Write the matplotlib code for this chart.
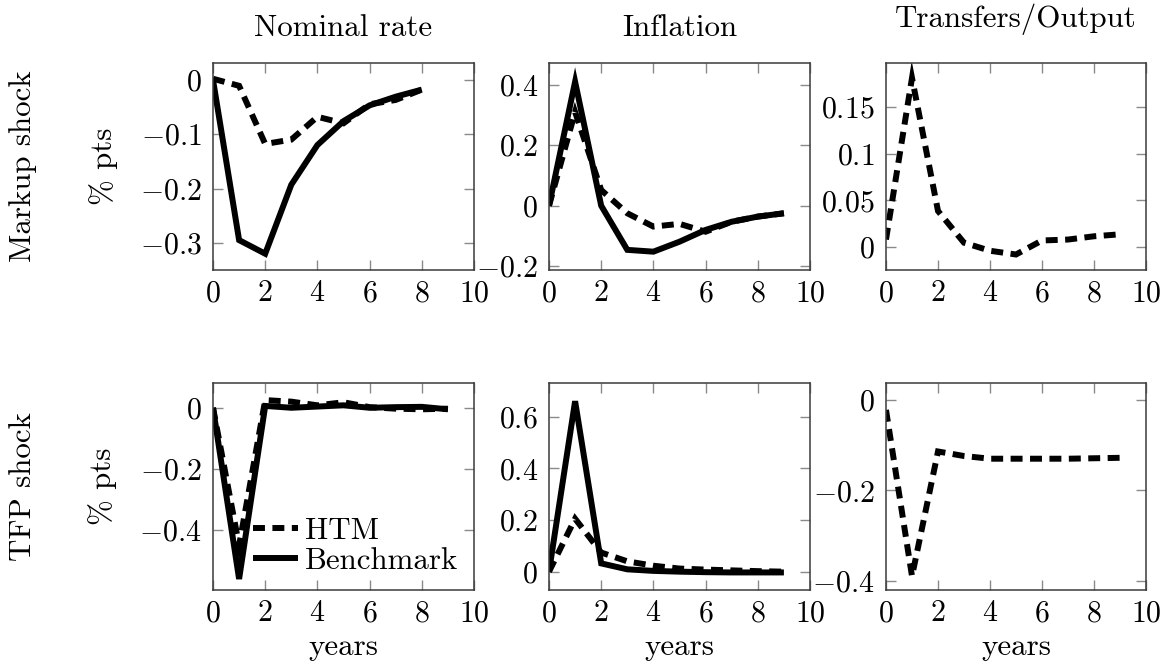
import matplotlib
matplotlib.use("Agg")
import matplotlib.pyplot as plt

plt.rcParams['font.family'] = ['cmr10', 'DejaVu Serif']
plt.rcParams['mathtext.fontset'] = 'cm'
plt.rcParams['axes.formatter.use_mathtext'] = True

# ---------------- data ----------------
years = [0, 1, 2, 3, 4, 5, 6, 7, 8, 9]

col_titles = ["Nominal rate", "Inflation", "Transfers/Output"]
row_titles = ["Markup shock", "TFP shock"]

markup_rate_bench = [0.0, -0.295, -0.32, -0.193, -0.12, -0.076, -0.047, -0.031, -0.018]
markup_rate_htm = [0.002, -0.011, -0.118, -0.11, -0.068, -0.08, -0.045, -0.037, -0.018]
markup_infl_bench = [0.0, 0.41, 0.0, -0.146, -0.152, -0.119, -0.08, -0.053, -0.036, -0.025]
markup_infl_htm = [0.0, 0.31, 0.052, -0.025, -0.069, -0.06, -0.086, -0.053, -0.036, -0.025]
markup_transfer_htm = [0.008, 0.181, 0.0386, 0.0046, -0.004, -0.008, 0.007, 0.008, 0.0115, 0.0136]

tfp_rate_bench = [0.0, -0.56, 0.006, 0.0, 0.004, 0.008, 0.0, 0.002, 0.003, -0.005]
tfp_rate_htm = [0.0, -0.45, 0.025, 0.02, 0.008, 0.018, 0.002, -0.003, -0.005, -0.003]
tfp_infl_bench = [0.0, 0.66, 0.032, 0.009, 0.003, 0.0, -0.002, -0.003, -0.003, -0.003]
tfp_infl_htm = [0.0, 0.205, 0.074, 0.04, 0.023, 0.012, 0.008, 0.005, 0.002, 0.0]
tfp_transfer_htm = [-0.022, -0.39, -0.114, -0.124, -0.13, -0.13, -0.13, -0.13, -0.129, -0.128]

xticks = [0, 2, 4, 6, 8, 10]
yticks = [
    [[0, -0.1, -0.2, -0.3], [0.4, 0.2, 0, -0.2], [0.15, 0.1, 0.05, 0]],
    [[0, -0.2, -0.4], [0.6, 0.4, 0.2, 0], [0, -0.2, -0.4]],
]
ylims = [
    [(-0.35, 0.031), (-0.2126, 0.472), (-0.0246, 0.197)],
    [(-0.596, 0.081), (-0.071, 0.7305), (-0.4206, 0.0376)],
]

panels = [
    [[(markup_rate_htm, 'htm'), (markup_rate_bench, 'bench')],
     [(markup_infl_htm, 'htm'), (markup_infl_bench, 'bench')],
     [(markup_transfer_htm, 'htm')]],
    [[(tfp_rate_htm, 'htm'), (tfp_rate_bench, 'bench')],
     [(tfp_infl_htm, 'htm'), (tfp_infl_bench, 'bench')],
     [(tfp_transfer_htm, 'htm')]],
]
labels = {'htm': 'HTM', 'bench': 'Benchmark'}

# ---------------- layout ----------------
W, H = 1167, 665
fig = plt.figure(figsize=(W / 100, H / 100), dpi=100)

col_left = [213, 549, 886]
col_width = [261, 261, 260]
row_top = [63, 383]
row_h = 207

FS_TICK = 21.5
FS = 22.3
LW = 4.3
frame_col = '#3a3a3a'
tick_col = '#8a8a8a'


def fmt(v):
    s = ('%.2f' % v).rstrip('0').rstrip('.')
    if s in ('-0', '0.'):
        s = '0'
    return '$' + s + '$'


for r in range(2):
    for c in range(3):
        l = col_left[c] / W
        b = 1 - (row_top[r] + row_h) / H
        ax = fig.add_axes([l, b, col_width[c] / W, row_h / H])
        for y, kind in panels[r][c]:
            xs = years[:len(y)]
            if kind == 'htm':
                ax.plot(xs, y, color='black', lw=LW, linestyle=(0, (2.0, 1.25)),
                        dash_joinstyle='miter', dash_capstyle='butt',
                        label=labels[kind])
            else:
                ax.plot(xs, y, color='black', lw=LW, linestyle='-',
                        solid_joinstyle='miter', solid_capstyle='butt',
                        label=labels[kind])
        ax.set_xlim(0, 10)
        ax.set_ylim(*ylims[r][c])
        ax.set_xticks(xticks)
        ax.set_xticklabels([fmt(v) for v in xticks])
        ax.set_yticks(yticks[r][c])
        ax.set_yticklabels([fmt(v) for v in yticks[r][c]])
        ax.tick_params(axis='both', direction='in', top=True, right=True,
                       length=7, width=1.0, color=tick_col, labelsize=FS_TICK,
                       labelcolor='black')
        ax.tick_params(axis='y', pad=8)
        ax.tick_params(axis='x', pad=7)
        for sp in ax.spines.values():
            sp.set_color(frame_col)
            sp.set_linewidth(1.1)
        if r == 1:
            ax.set_xlabel('years', fontsize=FS, labelpad=4)
        if c == 0:
            ax.set_ylabel('% pts', fontsize=FS, labelpad=16)
        if r == 0:
            ty = 36 if c < 2 else 27
            fig.text((col_left[c] + col_width[c] / 2) / W, 1 - ty / H,
                     col_titles[c], ha='center', va='baseline', fontsize=FS)
        if r == 1 and c == 0:
            ax.legend(loc='lower right', frameon=False, fontsize=FS,
                      handlelength=1.45, handletextpad=0.25, labelspacing=0.05,
                      borderaxespad=0.3, borderpad=0.2)

for r in range(2):
    cy = 1 - (row_top[r] + row_h / 2) / H
    fig.text(23 / W, cy, row_titles[r], rotation=90, ha='center', va='center',
             fontsize=FS)

fig.savefig('out.png', dpi=100)
